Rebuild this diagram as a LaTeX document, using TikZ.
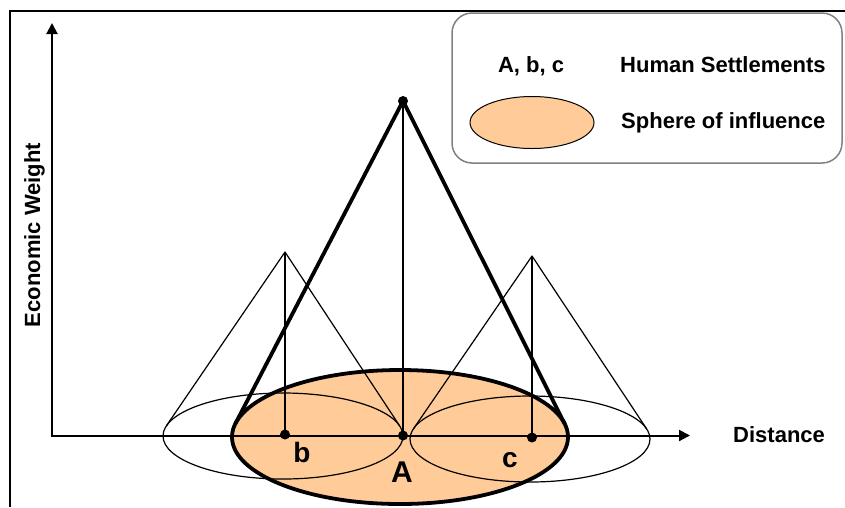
\documentclass[tikz,border=0pt]{standalone}
\usepackage{fontspec}
\setmainfont{Liberation Sans}
\usetikzlibrary{arrows.meta}
\definecolor{peach}{RGB}{255,204,153}
\definecolor{legendgray}{RGB}{128,128,128}
\begin{document}
\begin{tikzpicture}[x=1pt,y=-1pt,
  txt/.style={font=\bfseries\fontsize{22}{26}\selectfont, inner sep=0pt},
  ptlbl/.style={font=\bfseries\fontsize{28}{32}\selectfont, inner sep=0pt},
  thinline/.style={line width=1.2pt},
  midline/.style={line width=2pt},
  thickline/.style={line width=3.8pt, line join=round},
  axis/.style={line width=2pt, arrows={Triangle[length=11pt,width=11pt]-Triangle[length=11pt,width=11pt]}},
  dot/.style={fill=black}]
\useasboundingbox (0,0) rectangle (845,507);
% points
\coordinate (O) at (52,435.5);
\coordinate (Ytip) at (52,23);
\coordinate (Xtip) at (690,435.5);
\coordinate (A) at (403,435.5);
\coordinate (Atop) at (403,101);
\coordinate (b) at (285,434.5);
\coordinate (btop) at (285,252);
\coordinate (c) at (532,437.5);
\coordinate (ctop) at (532,256);
\coordinate (bigC) at (400,437);
\coordinate (bC) at (283,436);
\coordinate (cC) at (530,439);
\coordinate (TL) at (235.5,423.4);
\coordinate (TR) at (564.7,423.9);
\coordinate (bL) at (166.4,425.8);
\coordinate (bR) at (399.8,426.1);
\coordinate (cL) at (413.5,428.7);
\coordinate (cR) at (646.7,429);
% big sphere fill
\fill[peach] (bigC) ellipse [x radius=168pt, y radius=67pt];
% small spheres
\draw[thinline] (bC) ellipse [x radius=120pt, y radius=43pt];
\draw[thinline] (cC) ellipse [x radius=120pt, y radius=43pt];
% small cones
\draw[thinline, line join=round] (bL) -- (btop) -- (bR);
\draw[thinline, line join=round] (cL) -- (ctop) -- (cR);
% verticals
\draw[midline] (btop) -- (b);
\draw[midline] (ctop) -- (c);
\draw[midline] (Atop) -- (A);
% axes
\draw[axis] (Ytip) -- (O) -- (Xtip);
% big sphere outline and cone
\draw[thickline] (bigC) ellipse [x radius=168pt, y radius=67pt];
\draw[thickline] (TL) -- (Atop) -- (TR);
% dots
\fill[dot] (A) circle [radius=5pt];
\fill[dot] (b) circle [radius=5pt];
\fill[dot] (c) circle [radius=5pt];
\fill[dot] (Atop) circle [radius=5pt];
% labels
\node[ptlbl, anchor=base] (lb) at (302,462) {b};
\node[ptlbl, anchor=base] (lc) at (510,467) {c};
\node[ptlbl, font=\bfseries\fontsize{30}{34}\selectfont, anchor=base] (lA) at (402,482) {A};
\node[txt, anchor=base west] (dist) at (733,442) {Distance};
\node[txt, rotate=90, anchor=base] (ew) at (40,235) {Economic Weight};
% frame
\draw[line width=2pt] (10,507) -- (10,11) -- (845,11);
% legend
\draw[draw=legendgray, fill=white, line width=1.5pt, rounded corners=20pt] (452,13) rectangle (842,163);
\draw[line width=1pt, fill=peach] (532,122.5) ellipse [x radius=62pt, y radius=26pt];
\node[txt, anchor=base] (abc) at (531,72) {A, b, c};
\node[txt, anchor=base west] (hs) at (620,72) {Human Settlements};
\node[txt, anchor=base west] (soi) at (621,128) {Sphere of influence};
\end{tikzpicture}
\end{document}
